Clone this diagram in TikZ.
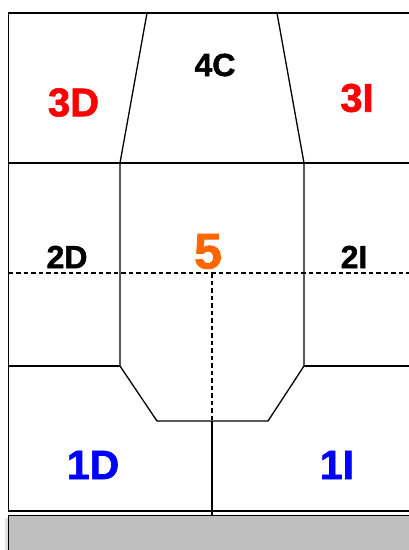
\documentclass[tikz,border=0pt]{standalone}
\usepackage{fontspec}
\setmainfont{Liberation Sans}[BoldFeatures={FakeBold=1.6}]
\definecolor{lblred}{HTML}{FF0000}
\definecolor{lblblue}{HTML}{0000FF}
\definecolor{lblorange}{HTML}{FF6600}
\definecolor{base}{HTML}{BFBFBF}
\begin{document}
\begin{tikzpicture}[x=1pt,y=-1pt,
  wall/.style={line width=1.3pt,black},
  split/.style={line width=1.1pt,black,dash pattern=on 4.5pt off 3pt},
  lbl/.style={inner sep=0pt,font=\bfseries},
]
\useasboundingbox (0,0) rectangle (409,550);
% base slab
\fill[black!12] (5,518) rectangle (415,555);
\draw[wall,fill=base] (8.5,515.5) rectangle (415,560);
% outer frame
\draw[wall] (415,13) -- (8.5,13) -- (8.5,511) -- (415,511);
% top row divider
\draw[wall] (8.5,163) -- (415,163);
% trapezoid 4C
\draw[wall] (147,13) -- (120,163);
\draw[wall] (277,13) -- (304,163);
% central column 5
\draw[wall] (120,163) -- (120,366) -- (157,421) -- (268,421) -- (304,366) -- (304,163);
% row 2 / row 1 dividers
\draw[wall] (8.5,366) -- (120,366);
\draw[wall] (304,366) -- (415,366);
% dashed midlines
\draw[split] (8.5,273) -- (415,273);
\draw[split] (212,273) -- (212,421);
\draw[wall] (212,421) -- (212,515.5);
% labels
\node[lbl,font=\bfseries\fontsize{40}{40}\selectfont,text=lblred] (n3D) at (73.5,102.5) {3D};
\node[lbl,font=\bfseries\fontsize{32}{32}\selectfont] (n4C) at (215,65) {4C};
\node[lbl,font=\bfseries\fontsize{40}{40}\selectfont,text=lblred] (n3I) at (357,98) {3I};
\node[lbl,font=\bfseries\fontsize{32}{32}\selectfont] (n2D) at (67,257) {2D};
\node[lbl,font=\bfseries\fontsize{50}{50}\selectfont,text=lblorange] (n5) at (208,251.5) {5};
\node[lbl,font=\bfseries\fontsize{32}{32}\selectfont] (n2I) at (354,257) {2I};
\node[lbl,font=\bfseries\fontsize{41}{41}\selectfont,text=lblblue] (n1D) at (93,465) {1D};
\node[lbl,font=\bfseries\fontsize{41}{41}\selectfont,text=lblblue] (n1I) at (337,465) {1I};
\end{tikzpicture}
\end{document}
